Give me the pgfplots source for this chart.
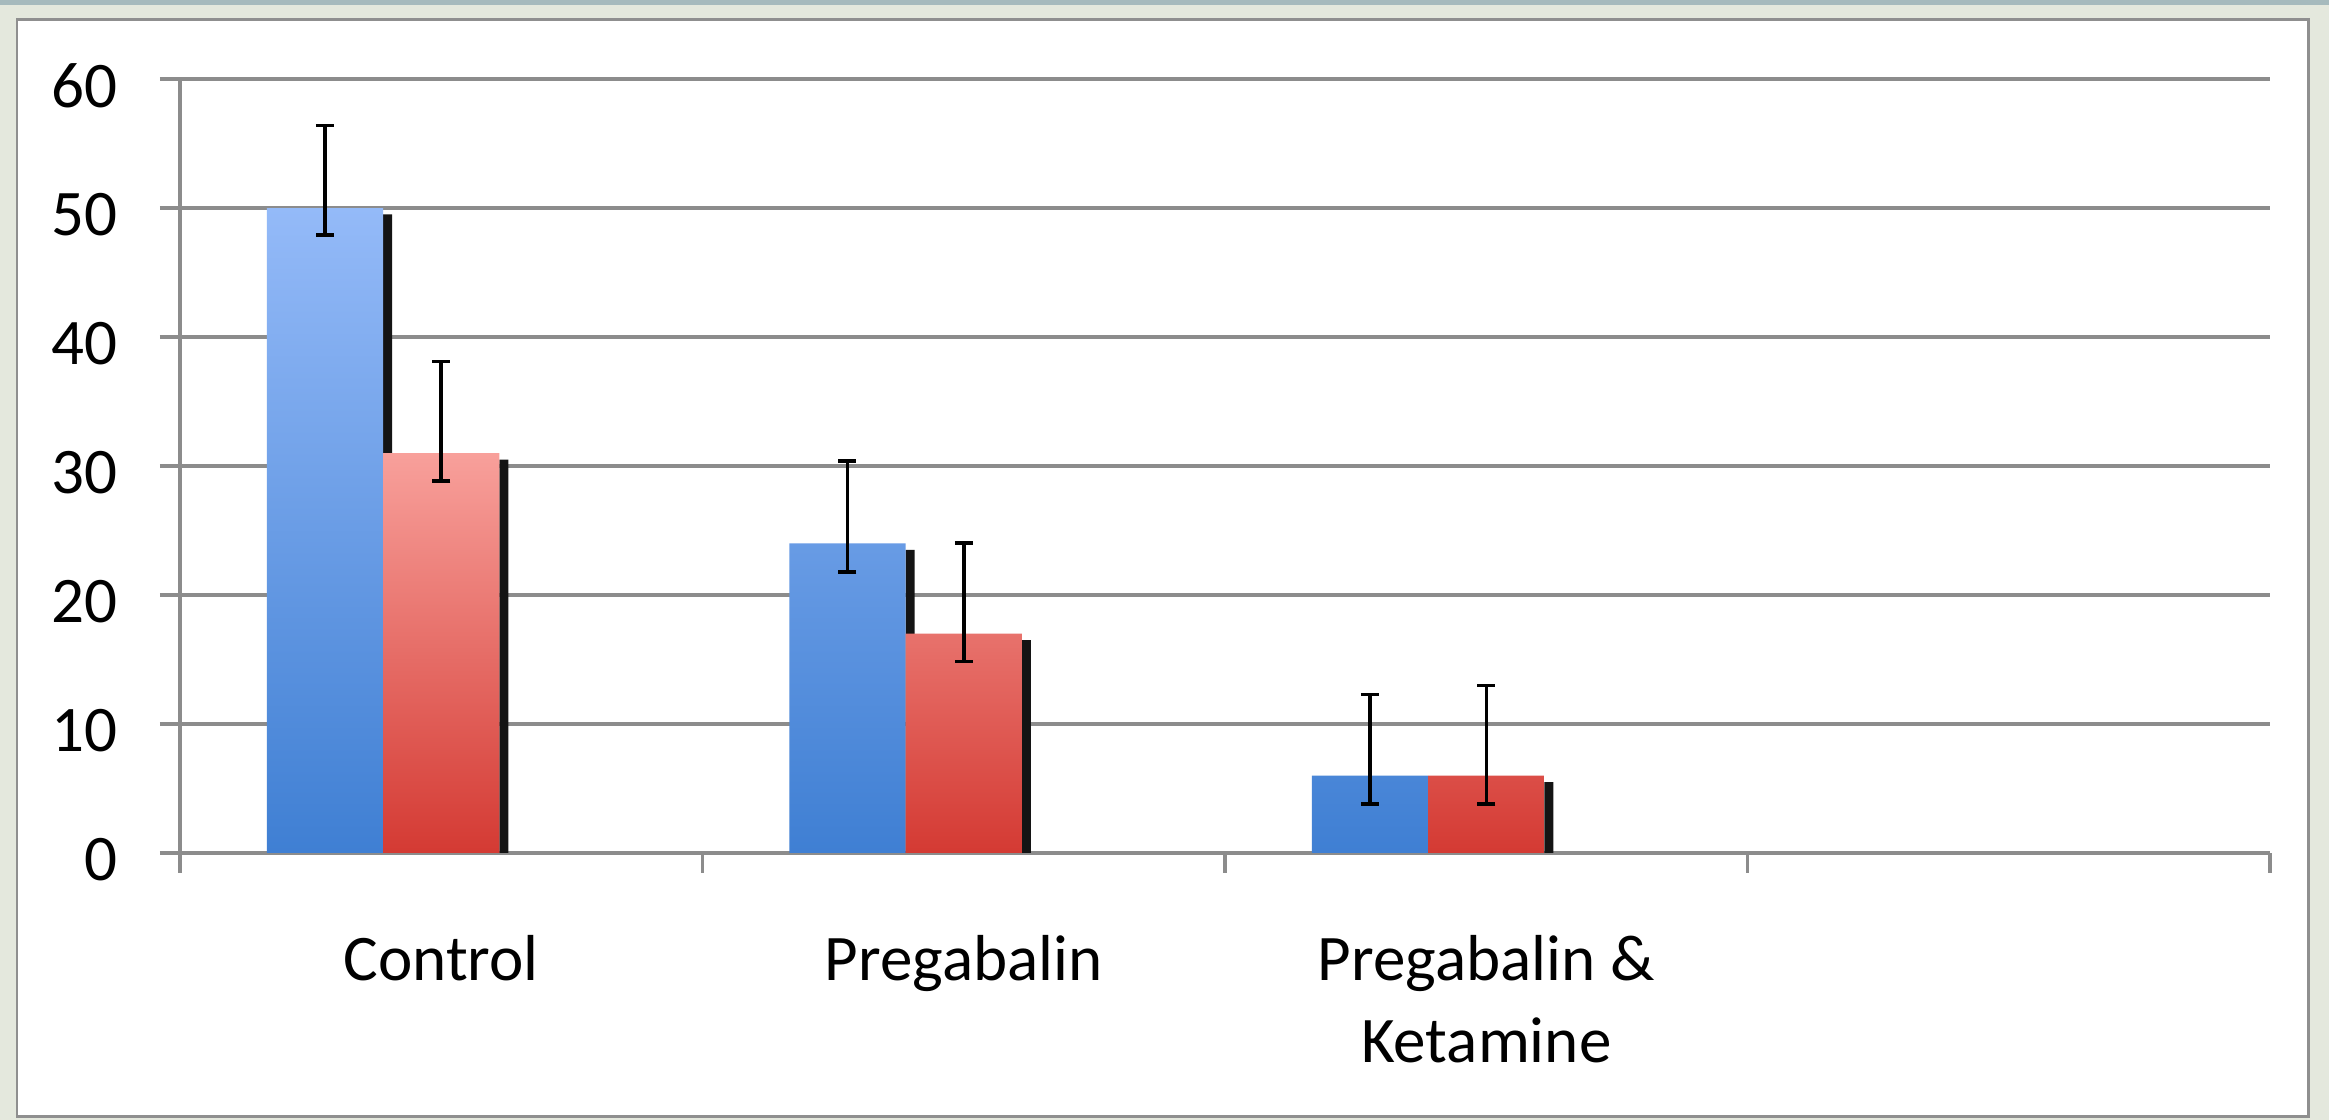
\documentclass[border=0pt]{standalone}
\usepackage{pgfplots}
\pgfplotsset{compat=1.18}
\usepackage{pgfplotstable}
\usepackage{fontspec}
\setmainfont{Carlito}

\definecolor{bluetop}{HTML}{94BAF8}
\definecolor{bluebot}{HTML}{3F7FD3}
\definecolor{redtop}{HTML}{F8A09B}
\definecolor{redbot}{HTML}{D43A33}
\definecolor{gridgray}{HTML}{8C8C8C}
\definecolor{bgc}{HTML}{E4E8DD}
\definecolor{topstrip}{HTML}{A6BABD}
\definecolor{framegray}{HTML}{8F8F8F}

% xe: position of the bar centre (blue bars sit one bar width left of the category)
\pgfplotstableread{
x xe y ep em s
0 -0.2226 50 6.4 2.1 49.5
1 0.7774 24 6.4 2.2 23.5
2 1.7774 6 6.3 2.2 5.5
}\bluedata
\pgfplotstableread{
x xe y ep em s
0 0 31 7.1 2.15 30.5
1 1 17 7.05 2.15 16.5
2 2 6 7.0 2.2 5.5
}\reddata

\begin{document}
\begin{tikzpicture}
\fill[bgc] (0,0) rectangle (23.29,11.20);
\fill[topstrip] (0,11.15) rectangle (23.29,11.20);
\draw[framegray, line width=0.03cm, fill=white] (0.17,0.03) rectangle (23.08,11.00);
\useasboundingbox (0,0) rectangle (23.29,11.20);
\begin{axis}[
  at={(1.80cm,2.67cm)}, anchor=south west,
  scale only axis, width=20.90cm, height=7.74cm,
  xmin=-0.5, xmax=3.5, ymin=0, ymax=60,
  ytick={0,10,...,60},
  ymajorgrids, grid style={gridgray, line width=0.95pt},
  axis line style={gridgray, line width=0.95pt},
  axis x line*=bottom, axis y line*=left,
  xtick={0,1,2},
  xticklabels={Control, Pregabalin, {Pregabalin \&\\Ketamine}},
  minor xtick={-0.5,0.5,1.5,2.5,3.5},
  tick align=outside,
  major tick length=0.2cm, minor tick length=0.2cm,
  major x tick style={draw=none},
  minor x tick style={gridgray, line width=0.95pt},
  y tick style={gridgray, line width=0.95pt},
  tick label style={font=\fontsize{18.5}{23.3}\selectfont, text=black},
  xticklabel style={align=center, anchor=north, inner sep=0pt, yshift=-0.62cm},
  yticklabel style={anchor=east, inner sep=0pt, xshift=-0.42cm, yshift=-0.065cm},
  /pgf/number format/assume math mode=true,
]
% blue shadow and bars
\addplot[ybar, bar width=0.0172, bar shift=-0.1027, fill=black!92, draw=none] table[x=x,y=s]{\bluedata};
\addplot[ybar, bar width=0.2226, bar shift=-0.2226, draw=none, top color=bluetop, bottom color=bluebot] table[x=x,y=y]{\bluedata};
% red shadow and bars
\addplot[ybar, bar width=0.0172, bar shift=0.1199, fill=black!92, draw=none] table[x=x,y=s]{\reddata};
\addplot[ybar, bar width=0.2226, bar shift=0, draw=none, top color=redtop, bottom color=redbot] table[x=x,y=y]{\reddata};
% error bars
\addplot[draw=none, mark=none,
  error bars/.cd, y dir=both, y explicit,
  error bar style={draw=black, line width=1pt},
  error mark options={rotate=90, mark size=0.09cm, draw=black, line width=1pt}]
  table[x=xe,y=y,y error plus=ep,y error minus=em]{\bluedata};
\addplot[draw=none, mark=none,
  error bars/.cd, y dir=both, y explicit,
  error bar style={draw=black, line width=1pt},
  error mark options={rotate=90, mark size=0.09cm, draw=black, line width=1pt}]
  table[x=xe,y=y,y error plus=ep,y error minus=em]{\reddata};
\end{axis}
\end{tikzpicture}
\end{document}
